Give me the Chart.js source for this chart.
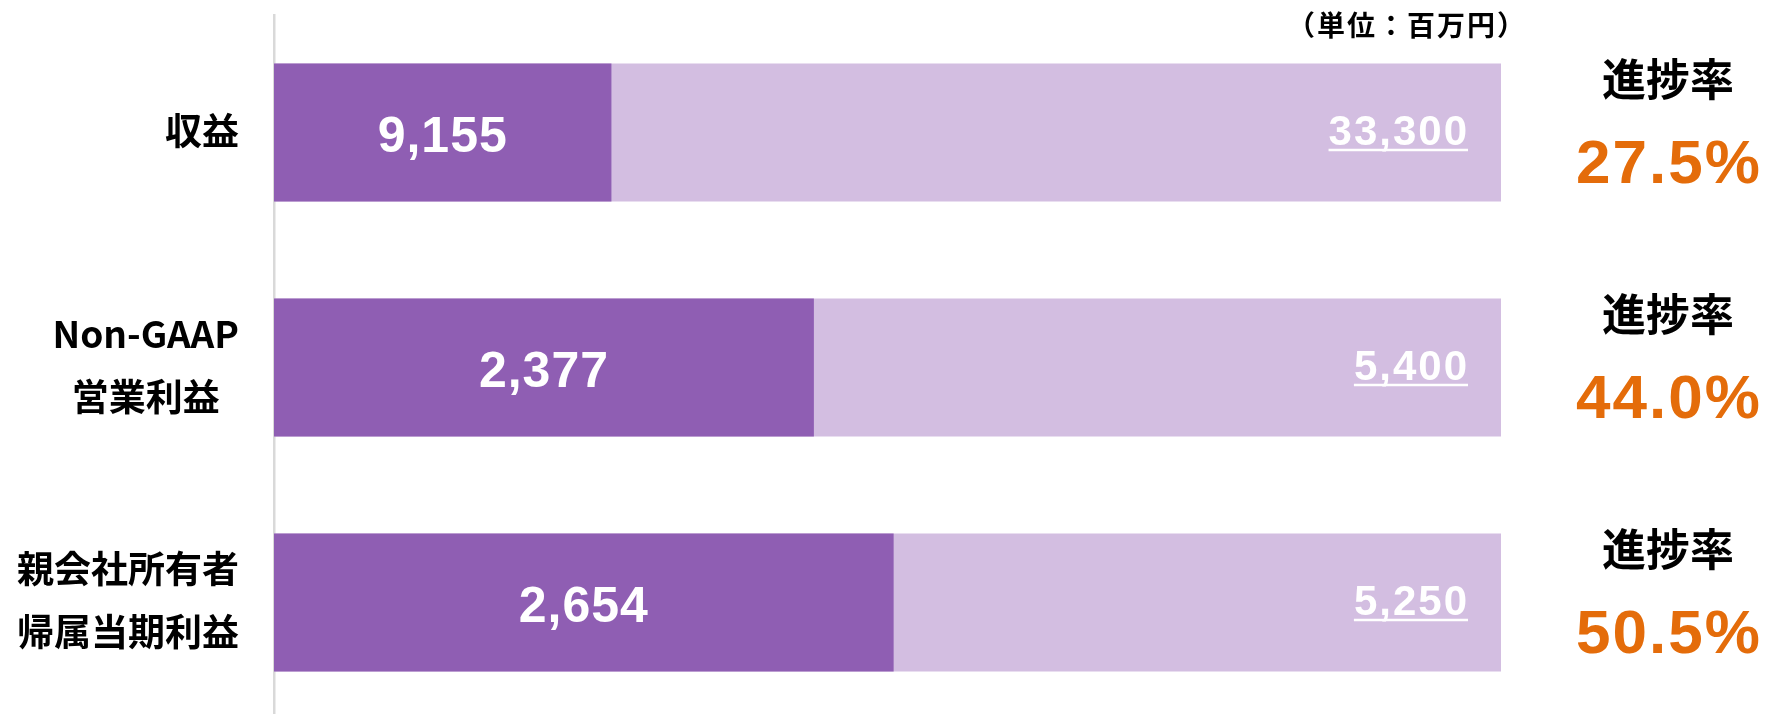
<!DOCTYPE html>
<html lang="ja">
<head>
<meta charset="utf-8">
<script src="https://cdn.jsdelivr.net/npm/chart.js@4.4.1/dist/chart.umd.min.js"></script>
<style>
  html, body { margin: 0; padding: 0; background: #fff; overflow: hidden; }
  #wrap { width: 1768px; height: 720px; }
</style>
</head>
<body>
<div id="wrap"><canvas id="myChart" width="1768" height="720"></canvas></div>
<script>
// valores (百万円)
const categories = [['収益'], ['Non-GAAP', '営業利益'], ['親会社所有者', '帰属当期利益']]
const actual = [9155, 2377, 2654]
const forecast = [33300, 5400, 5250]
const progress = [27.5, 44.0, 50.5]
const full = [100, 100, 100]

const unitText = '（単位：百万円）'
const rateTitle = '進捗率'

const purple = '#8F5EB3'
const lavender = '#D3BEE1'
const orange = '#E46C0A'

const cjk = '"Noto Sans CJK JP", "Noto Sans", sans-serif'
const num = '"Liberation Sans", Arial, sans-serif'

const fmt = v => v.toLocaleString('en-US')

const textos = {
    id: 'textos',
    afterDatasetsDraw(chart) {
        const ctx = chart.ctx
        const area = chart.chartArea
        const yScale = chart.scales.y
        const dark = chart.getDatasetMeta(0).data
        const light = chart.getDatasetMeta(1).data

        ctx.save()

        // nomes das categorias
        ctx.fillStyle = '#000'
        ctx.font = 'bold 37px ' + cjk
        ctx.textBaseline = 'middle'
        ctx.textAlign = 'center'
        categories.forEach((lines, i) => {
            const yc = yScale.getPixelForValue(i)
            const w = Math.max(...lines.map(l => ctx.measureText(l).width))
            const cx = area.left - 35 - w / 2
            lines.forEach((l, j) => {
                ctx.fillText(l, cx, yc + (j - (lines.length - 1) / 2) * 63 - 2)
            })
        })

        // valores realizados
        ctx.fillStyle = '#fff'
        ctx.font = 'bold 50px ' + num
        ctx.textBaseline = 'alphabetic'
        ctx.textAlign = 'center'
        ctx.letterSpacing = '1px'
        dark.forEach((bar, i) => {
            ctx.fillText(fmt(actual[i]), (bar.x + bar.base) / 2, bar.y + 19)
        })

        // previsao, sublinhado
        ctx.font = 'bold 42px ' + num
        ctx.letterSpacing = '2px'
        ctx.textAlign = 'right'
        ctx.strokeStyle = '#fff'
        ctx.lineWidth = 2.5
        light.forEach((bar, i) => {
            const txt = fmt(forecast[i])
            const xr = bar.x - 32
            const by = bar.y + 12
            ctx.fillText(txt, xr, by)
            const w = ctx.measureText(txt).width
            ctx.beginPath()
            ctx.moveTo(xr - w, by + 5.5)
            ctx.lineTo(xr - 1, by + 5.5)
            ctx.stroke()
        })

        // 進捗率
        const rx = area.right + 167
        ctx.textAlign = 'center'
        progress.forEach((p, i) => {
            const yc = yScale.getPixelForValue(i)
            ctx.letterSpacing = '0px'
            ctx.fillStyle = '#000'
            ctx.font = 'bold 44px ' + cjk
            ctx.textBaseline = 'middle'
            ctx.fillText(rateTitle, rx, yc - 53)
            ctx.letterSpacing = '2px'
            ctx.fillStyle = orange
            ctx.font = 'bold 62px ' + num
            ctx.textBaseline = 'alphabetic'
            ctx.fillText(p.toFixed(1) + '%', rx + 1, yc + 50)
        })

        // unidade
        ctx.letterSpacing = '2px'
        ctx.fillStyle = '#000'
        ctx.font = 'bold 28px ' + cjk
        ctx.textAlign = 'left'
        ctx.textBaseline = 'middle'
        ctx.fillText(unitText, area.right - 214, 25)

        ctx.restore()
    }
}

const ctx = document.getElementById('myChart').getContext('2d')

const myChart = new Chart(ctx, {
    type: 'bar',
    data: {
        labels: categories,
        datasets: [
            {
                label: '実績',
                data: progress,
                backgroundColor: purple,
                grouped: false,
                barPercentage: 0.587,
                categoryPercentage: 1
            },
            {
                label: '予想',
                data: full,
                backgroundColor: lavender,
                grouped: false,
                barPercentage: 0.587,
                categoryPercentage: 1
            }
        ]
    },
    options: {
        indexAxis: 'y',
        responsive: false,
        animation: false,
        layout: {
            padding: { top: 15, right: 267, bottom: 0, left: 0 }
        },
        scales: {
            x: {
                display: false,
                min: 0,
                max: 100
            },
            y: {
                ticks: { display: false },
                grid: { display: false },
                border: { display: true, color: '#d9d9d9', width: 2.5 },
                afterFit: scale => { scale.width = 274 }
            }
        },
        plugins: {
            legend: { display: false },
            tooltip: { enabled: false }
        }
    },
    plugins: [textos]
})
</script>
</body>
</html>
